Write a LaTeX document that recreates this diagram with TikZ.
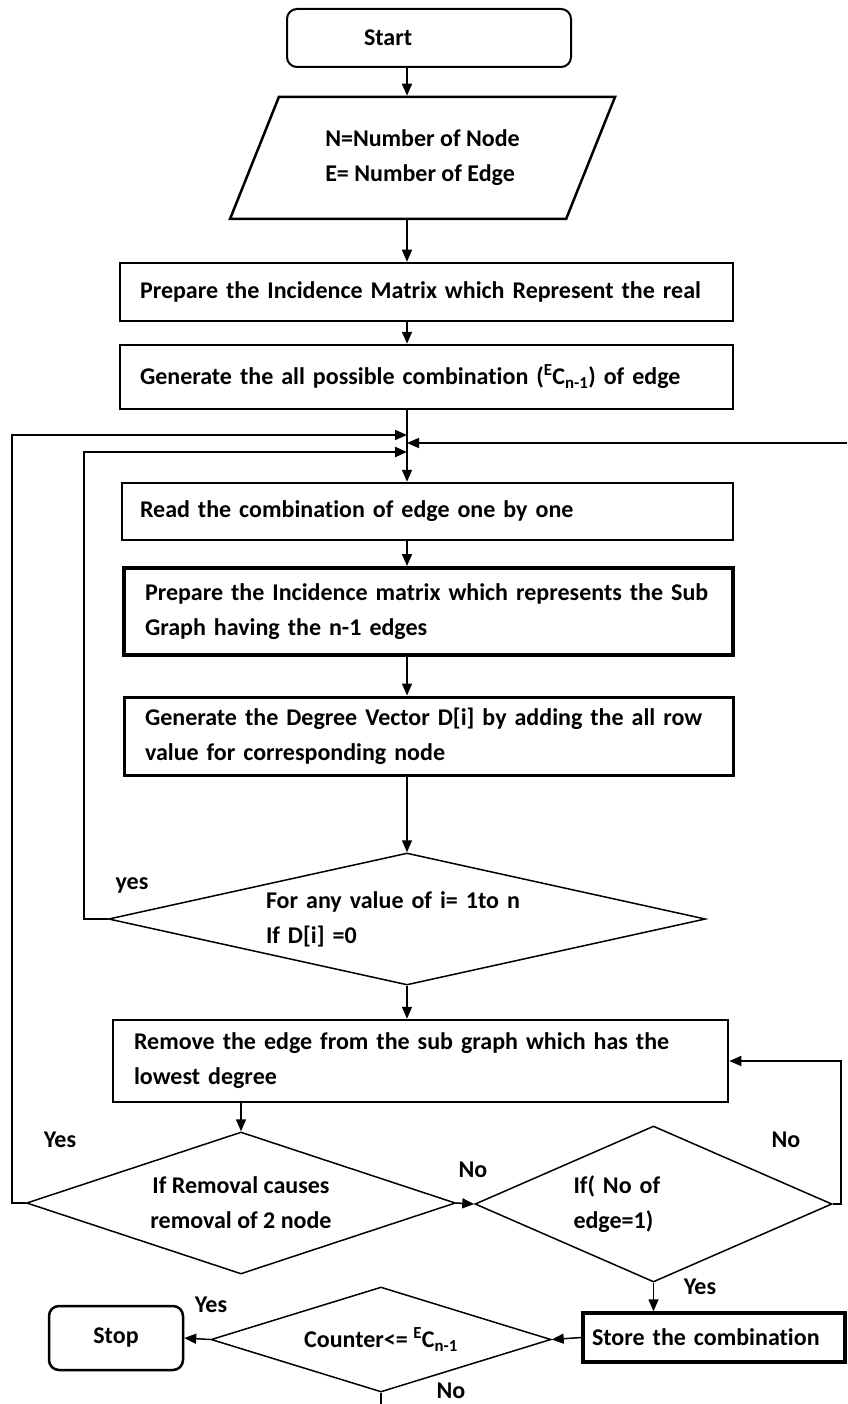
\documentclass[tikz,border=0pt]{standalone}
\usepackage{fontspec}
\setmainfont{Carlito}[Ligatures=NoCommon]
\usetikzlibrary{arrows.meta,positioning,shapes.geometric}
\tikzset{
    >={Triangle[length=12pt,width=10pt]},
    every picture/.style={line width=1.5pt},
    every node/.style={font=\fontsize{24}{35}\selectfont\bfseries},
    terminal/.style={draw,rounded corners=10pt,line width=2pt,align=left},
    inout/.style={draw,trapezium,trapezium left angle=52,trapezium right angle=128,
        trapezium stretches body,line width=2.5pt,minimum width=385pt,minimum height=122pt,align=left},
    process/.style={draw,line width=2.5pt,align=left,inner ysep=0pt},
    heavyprocess/.style={process,line width=4pt},
    decision/.style={draw,diamond,line width=1.5pt,inner sep=0pt,align=left},
    answer/.style={inner sep=0pt}
}
\begin{document}
\begin{tikzpicture}[x=1pt,y=-1pt]
    \useasboundingbox (0,0) rectangle (847,1404);
    \coordinate (spine) at (407,0);

    % main column
    \node[terminal,minimum width=284pt,minimum height=58pt,text width=130pt,inner xsep=77pt] (start) at (429,38) {Start};
    \node[inout] (data) at (422.5,158) {N=Number of Node\\E= Number of Edge};
    \node[process,minimum height=58pt,text width=573pt,inner xsep=20pt] (prep) at (426.5,292)
        {Prepare the Incidence Matrix which Represent the real};
    \node[process,minimum height=64pt,text width=573pt,inner xsep=20pt] (comb) at (426.5,377)
        {Generate the all possible combination (\textsuperscript{E}C\textsubscript{n-1}) of edge};
    \node[process,minimum height=57pt,text width=575pt,inner xsep=18pt] (read) at (427.5,511.5)
        {Read the combination of edge one by one};
    \node[heavyprocess,minimum height=87pt,text width=567pt,inner xsep=21pt] (sub) at (428.5,611.5)
        {Prepare the Incidence matrix which represents the Sub\\Graph having the n-1 edges};
    \node[heavyprocess,line width=3pt,minimum height=78pt,text width=567pt,inner xsep=21pt] (deg) at (428.5,736)
        {Generate the Degree Vector D[i] by adding the all row\\value for corresponding node};
    \node[decision,minimum width=597pt,minimum height=132pt,text width=282pt,shape aspect=4.5] (anyzero) at (407,919)
        {For any value of i= 1to n\\If D[i] =0};
    \node[process,minimum height=82pt,text width=573pt,inner xsep=21pt] (rem) at (420.5,1061)
        {Remove the edge from the sub graph which has the\\lowest degree};

    % lower part
    \node[decision,minimum width=429pt,minimum height=142pt,shape aspect=3,align=center] (twonode) at (241,1203)
        {If Removal causes\\removal of 2 node};
    \node[decision,minimum width=357pt,minimum height=156pt,text width=160pt,shape aspect=2.3] (oneedge) at (653.5,1204)
        {If( No of\\edge=1)};
    \node[heavyprocess,line width=3.5pt,minimum height=49pt,text width=244pt,inner xsep=9pt] (store) at (714,1337.5)
        {Store the combination};
    \node[decision,minimum width=340pt,minimum height=105pt,shape aspect=3.2] (counter) at (381,1339.5)
        {Counter<= \textsuperscript{E}C\textsubscript{n-1}};
    \node[terminal,line width=2.5pt,minimum width=134pt,minimum height=64pt,align=center] (stop) at (116,1338) {Stop};
    \coordinate (tail) at (381,1404);

    % labels
    \node[answer] (yes1) at (132,885) {yes};
    \node[answer] (yes2) at (60,1140) {Yes};
    \node[answer] (no1) at (473,1170) {No};
    \node[answer] (no2) at (786,1140) {No};
    \node[answer] (yes3) at (700,1287) {Yes};
    \node[answer] (yes4) at (211,1305) {Yes};
    \node[answer] (no3) at (451,1391) {No};

    % joints on the spine
    \coordinate (j1) at (407,435);
    \coordinate (j2) at (407,443);
    \coordinate (j3) at (407,452);
    \coordinate (rtop) at (847,443);

    % connectors
    \draw[->] (start.south -| spine) -- (data.north -| spine);
    \draw[->] (data.south -| spine) -- (prep.north -| spine);
    \draw[->] (prep.south -| spine) -- (comb.north -| spine);
    \draw[->] (comb.south -| spine) -- (read.north -| spine);
    \draw[->] (read.south -| spine) -- (sub.north -| spine);
    \draw[->] (sub.south -| spine) -- (deg.north -| spine);
    \draw[->] (deg.south -| spine) -- (anyzero.north);
    \draw[->] (anyzero.south) -- (rem.north -| spine);
    \draw[->] (rem.south -| twonode.north) -- (twonode.north);
    \draw[->] (twonode.east) -- (oneedge.west);
    \draw[->] (oneedge.south) -- (store.north -| oneedge.south);
    \draw[->] (store.west) -- (counter.east);
    \draw[->] (counter.west) -- (stop.east);
    \draw (counter.south) -- (tail);

    % loops back to the spine
    \draw[->,line width=2.5pt] (anyzero.west) -- ++(-24,0) |- (j3);
    \draw[->] (twonode.west) -- ++(-14,0) |- (j1);
    \draw[->] (oneedge.east) -- ++(8,0) |- (rem.east);
    \draw[->] (rtop) -- (j2);
\end{tikzpicture}
\end{document}
